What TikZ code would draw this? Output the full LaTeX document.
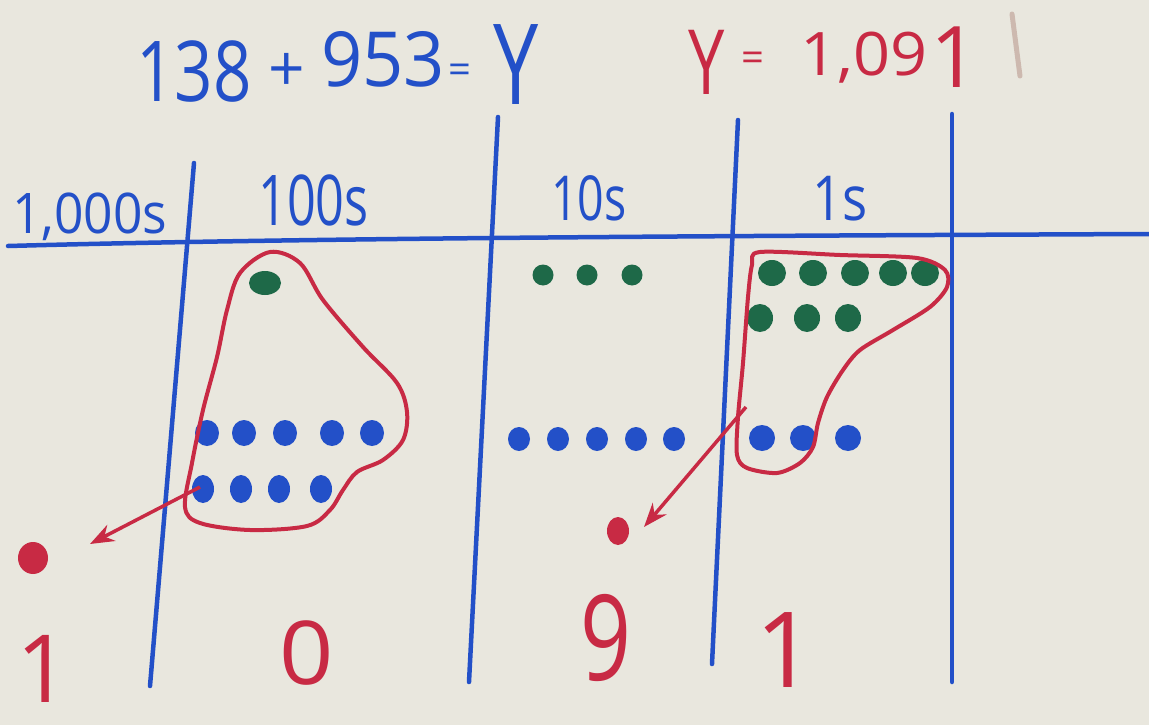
\documentclass[tikz,border=0pt]{standalone}
\usepackage{fontspec}
\setmainfont{Open Sans}
\usetikzlibrary{arrows.meta}
\definecolor{board}{RGB}{233,231,222}
\definecolor{mblue}{RGB}{35,80,200}
\definecolor{mgreen}{RGB}{30,105,72}
\definecolor{mred}{RGB}{200,42,68}
\definecolor{smudge}{RGB}{205,185,175}
\begin{document}
\begin{tikzpicture}[x=1pt,y=-1pt,
  bline/.style={draw=mblue,line width=4.5pt,line cap=round},
  rloop/.style={draw=mred,line width=4pt,line join=round},
  rarrow/.style={draw=mred,line width=3.5pt,-{Stealth[length=24pt,width=18pt]}},
  btext/.style={text=mblue,inner sep=0pt,anchor=base west},
  rtext/.style={text=mred,inner sep=0pt,anchor=base west},
  bdot/.style={fill=mblue},
  gdot/.style={fill=mgreen},
  rdot/.style={fill=mred},
]
\fill[board] (0,0) rectangle (1149,725);
\useasboundingbox (0,0) rectangle (1149,725);

% faint smudge on board
\draw[smudge,line width=5pt,line cap=round] (1012,14) -- (1020,76);

% equation
\node[btext,font=\fontsize{84}{90}\selectfont] (n138) at (136,102) {\scalebox{0.8}[1]{138}};
\node[btext,font=\fontsize{64}{70}\selectfont] (plus) at (268,92) {+};
\node[btext,font=\fontsize{76}{80}\selectfont] (n953) at (321,87) {\scalebox{0.95}[1]{953}};
\node[btext,font=\fontsize{40}{50}\selectfont] (eqa) at (448,84) {=};
\node[btext,font=\fontsize{112}{120}\selectfont] (ya) at (493,104) {\scalebox{0.72}[1]{Y}};
\node[rtext,font=\fontsize{90}{96}\selectfont] (yb) at (688,95) {\scalebox{0.72}[1]{Y}};
\node[rtext,font=\fontsize{40}{50}\selectfont] (eqb) at (741,72) {=};
\node[rtext,font=\fontsize{60}{66}\selectfont] (n109) at (800,75) {\scalebox{1.08}[1]{1,09}};
\node[rtext,font=\fontsize{85}{90}\selectfont] (n1b) at (930,88) {1};

% place value chart lines
\coordinate (hl) at (8,246);
\coordinate (hr) at (1149,234);
\draw[bline] (hl) .. controls (300,238) and (700,236) .. (hr);
\coordinate (v1t) at (194,163); \coordinate (v1b) at (150,686);
\coordinate (v2t) at (498,117); \coordinate (v2b) at (469,682);
\coordinate (v3t) at (738,120); \coordinate (v3b) at (712,664);
\coordinate (v4t) at (952,114); \coordinate (v4b) at (952,682);
\draw[bline] (v1t) -- (v1b);
\draw[bline] (v2t) -- (v2b);
\draw[bline] (v3t) -- (v3b);
\draw[bline] (v4t) -- (v4b);

% column headings
\node[btext,font=\fontsize{56}{60}\selectfont] (h1000) at (12,233) {\scalebox{0.92}[1]{1,000s}};
\node[btext,font=\fontsize{70}{80}\selectfont] (h100) at (258,225) {\scalebox{0.72}[1]{100s}};
\node[btext,font=\fontsize{62}{66}\selectfont] (h10) at (551,220) {\scalebox{0.75}[1]{10s}};
\node[btext,font=\fontsize{62}{66}\selectfont] (h1) at (812,220) {\scalebox{0.85}[1]{1s}};

% 100s column
\fill[gdot] (265,283) ellipse [x radius=16pt, y radius=12pt];
\foreach \x in {207,244,285,332,372} \fill[bdot] (\x,433) ellipse [x radius=12pt, y radius=13pt];
\foreach \x in {203,241,279,321} \fill[bdot] (\x,489) ellipse [x radius=11pt, y radius=14pt];
\draw[rloop] plot[smooth cycle, tension=0.55] coordinates {
  (270,252) (300,263) (323,300) (363,347) (397,383) (407,412) (403,440)
  (383,460) (357,472) (343,490) (330,510) (307,526) (250,530) (200,523)
  (185,507) (192,463) (203,410) (217,357) (227,310) (240,273)};

% 10s column
\foreach \x in {543,587,632} \fill[gdot] (\x,275) circle (10.5pt);
\foreach \x in {519,558,597,636,674} \fill[bdot] (\x,439) ellipse [x radius=11pt, y radius=12pt];

% 1s column
\foreach \x in {772,813,855,893,925} \fill[gdot] (\x,273) ellipse [x radius=14pt, y radius=13pt];
\foreach \x in {760,807,848} \fill[gdot] (\x,318) ellipse [x radius=13pt, y radius=14pt];
\foreach \x in {762,803,848} \fill[bdot] (\x,438) ellipse [x radius=13pt, y radius=13pt];
\draw[rloop] plot[smooth cycle, tension=0.5] coordinates {
  (760,252) (840,255) (917,258) (945,270) (947,287) (930,307) (893,330)
  (860,350) (843,370) (827,397) (818,423) (813,447) (800,463) (777,473)
  (747,468) (737,455) (738,417) (743,363) (748,297) (752,265)};

% regrouping arrows and carried dots
\coordinate (a1s) at (200,487); \coordinate (a1e) at (90,544);
\draw[rarrow] (a1s) -- (a1e);
\coordinate (a2s) at (746,407); \coordinate (a2e) at (644,527);
\draw[rarrow] (a2s) -- (a2e);
\fill[rdot] (33,558) ellipse [x radius=15pt, y radius=16pt];
\fill[rdot] (618,531) ellipse [x radius=11pt, y radius=14pt];

% answer digits
\node[rtext,font=\fontsize{94}{100}\selectfont] (d1) at (16,702) {1};
\node[rtext,font=\fontsize{88}{96}\selectfont] (d0) at (279,684) {\scalebox{1.08}[1]{0}};
\node[rtext,font=\fontsize{119}{125}\selectfont] (d9) at (580,680) {\scalebox{0.75}[1]{9}};
\node[rtext,font=\fontsize{105}{110}\selectfont] (d1b) at (755,687) {1};
\end{tikzpicture}
\end{document}
